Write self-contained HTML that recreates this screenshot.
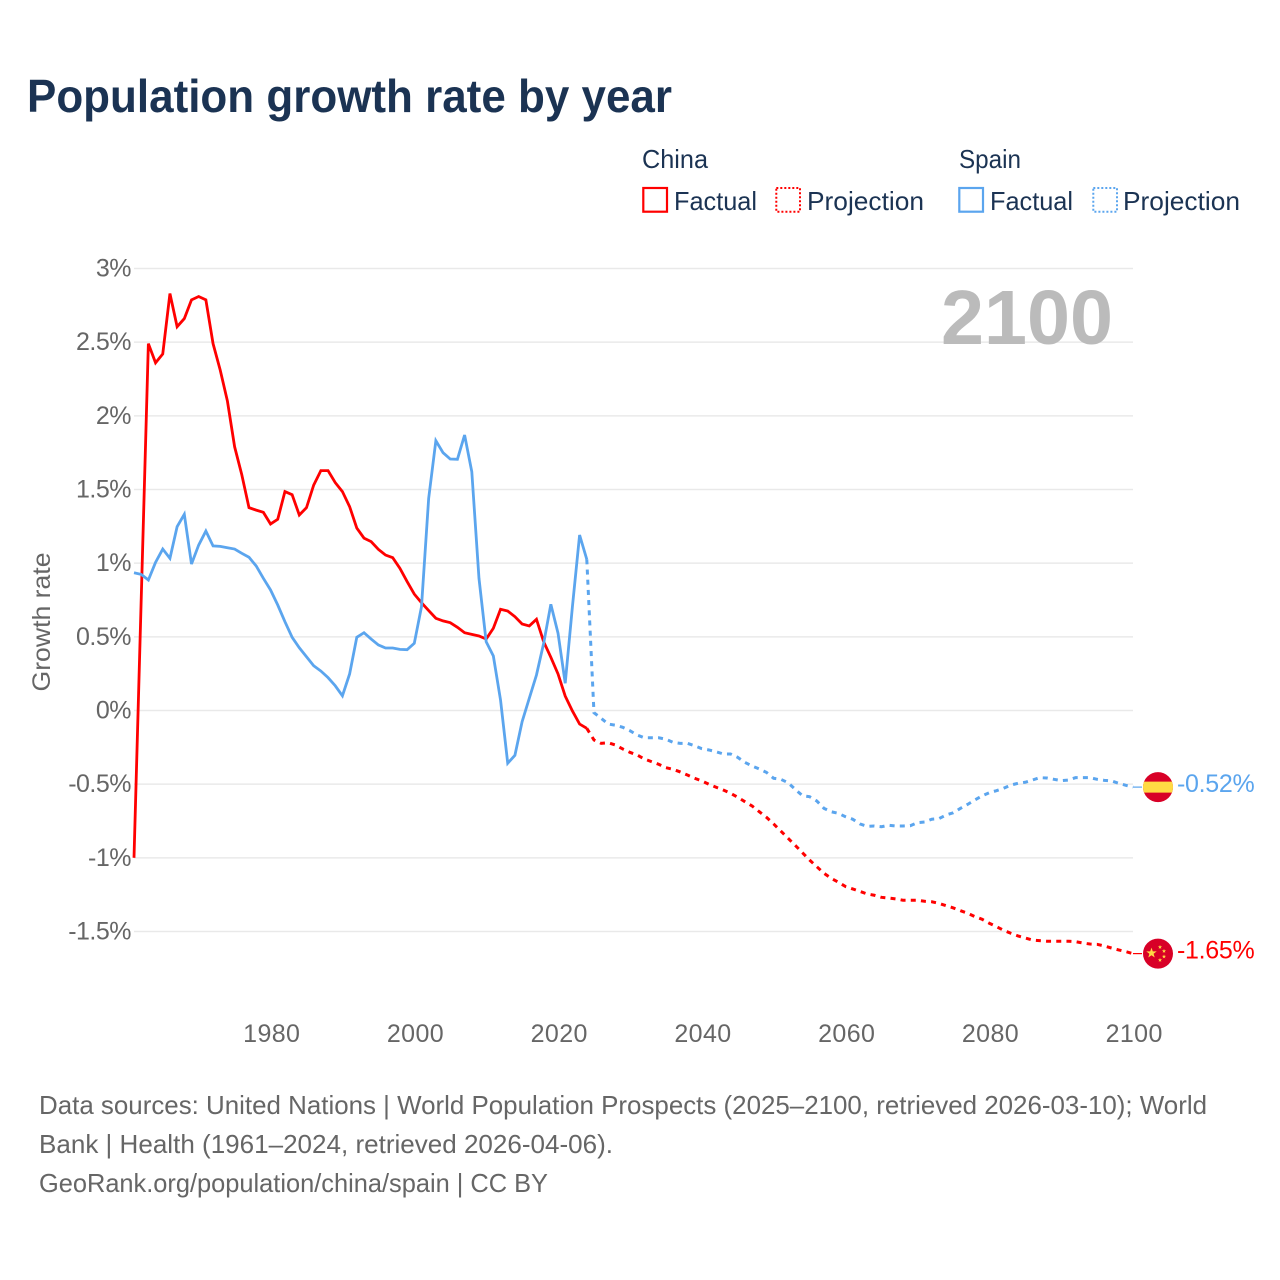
<!DOCTYPE html>
<html lang="en">
<head>
<meta charset="utf-8">
<title>Population growth rate by year</title>
<style>
html,body{margin:0;padding:0;background:#fff;}
svg{display:block;font-family:"Liberation Sans",sans-serif;}
.dark{fill:#1b3353;}
.gray{fill:#666;}
</style>
</head>
<body>
<svg id="chart" xmlns="http://www.w3.org/2000/svg" width="1280" height="1280" viewBox="0 0 1280 1280">
  <rect x="0" y="0" width="1280" height="1280" fill="#fff"/>
  <text class="dark" x="27" y="112" font-size="46" font-weight="700" textLength="645" lengthAdjust="spacingAndGlyphs">Population growth rate by year</text>

  <g font-size="26">
    <text class="dark" x="642" y="168" textLength="66" lengthAdjust="spacingAndGlyphs">China</text>
    <rect x="643.3" y="188" width="23.7" height="23.7" fill="none" stroke="#ff0000" stroke-width="2.2"/>
    <text class="dark" x="674" y="210" textLength="83" lengthAdjust="spacingAndGlyphs">Factual</text>
    <rect x="776.3" y="188" width="23.7" height="23.7" fill="none" stroke="#ff0000" stroke-width="2" stroke-dasharray="2 2"/>
    <text class="dark" x="807" y="210" textLength="117" lengthAdjust="spacingAndGlyphs">Projection</text>
    <text class="dark" x="959" y="168" textLength="62" lengthAdjust="spacingAndGlyphs">Spain</text>
    <rect x="959.3" y="188" width="23.7" height="23.7" fill="none" stroke="#5ba5ee" stroke-width="2.2"/>
    <text class="dark" x="990" y="210" textLength="83" lengthAdjust="spacingAndGlyphs">Factual</text>
    <rect x="1093.3" y="188" width="23.7" height="23.7" fill="none" stroke="#5ba5ee" stroke-width="2" stroke-dasharray="2 2"/>
    <text class="dark" x="1123" y="210" textLength="117" lengthAdjust="spacingAndGlyphs">Projection</text>
  </g>

  <g id="grid"></g>
  <g id="yticks"></g>
  <g id="xticks"></g>
  <text class="gray" font-size="25" text-anchor="middle" transform="translate(50 622) rotate(-90)" textLength="139" lengthAdjust="spacingAndGlyphs">Growth rate</text>
  <text x="941" y="344" font-size="77" font-weight="700" fill="#bbbbbb" textLength="172" lengthAdjust="spacingAndGlyphs">2100</text>
  <g id="series"></g>
  <g id="ends"></g>

  <g font-size="26" class="gray">
    <text class="gray" x="39" y="1114" textLength="1168" lengthAdjust="spacingAndGlyphs">Data sources: United Nations | World Population Prospects (2025–2100, retrieved 2026-03-10); World</text>
    <text class="gray" x="39" y="1153" textLength="574" lengthAdjust="spacingAndGlyphs">Bank | Health (1961–2024, retrieved 2026-04-06).</text>
    <text class="gray" x="39" y="1192" textLength="509" lengthAdjust="spacingAndGlyphs">GeoRank.org/population/china/spain | CC BY</text>
  </g>
</svg>
<script>
const yTickValues = [3, 2.5, 2, 1.5, 1, 0.5, 0, -0.5, -1, -1.5];
const xTickYears = [1980, 2000, 2020, 2040, 2060, 2080, 2100];
const factualStartYear = 1961;
const projectionStartYear = 2024;

const chinaFactual = [-1, 0.75, 2.49, 2.36, 2.42, 2.83, 2.605, 2.66, 2.787, 2.81, 2.787, 2.49, 2.31, 2.1, 1.79, 1.6, 1.377, 1.36, 1.345, 1.266, 1.298, 1.486, 1.465, 1.327, 1.377, 1.53, 1.628, 1.628, 1.547, 1.486, 1.384, 1.238, 1.17, 1.146, 1.094, 1.055, 1.037, 0.965, 0.875, 0.79, 0.732, 0.678, 0.626, 0.608, 0.596, 0.565, 0.528, 0.517, 0.506, 0.485, 0.558, 0.687, 0.675, 0.637, 0.587, 0.574, 0.619, 0.467, 0.361, 0.248, 0.098, -0.003, -0.092, -0.121];

const chinaProjection = [-0.121, -0.2, -0.223, -0.219, -0.234, -0.261, -0.284, -0.302, -0.329, -0.347, -0.365, -0.388, -0.399, -0.417, -0.438, -0.46, -0.478, -0.501, -0.521, -0.54, -0.562, -0.589, -0.619, -0.648, -0.687, -0.725, -0.77, -0.818, -0.867, -0.915, -0.965, -1.015, -1.06, -1.105, -1.139, -1.165, -1.195, -1.211, -1.228, -1.245, -1.254, -1.268, -1.273, -1.279, -1.288, -1.288, -1.288, -1.295, -1.298, -1.309, -1.325, -1.34, -1.359, -1.376, -1.399, -1.417, -1.444, -1.467, -1.492, -1.512, -1.53, -1.544, -1.558, -1.562, -1.566, -1.566, -1.566, -1.566, -1.569, -1.578, -1.585, -1.587, -1.598, -1.612, -1.625, -1.637, -1.65];

const spainFactual = [0.935, 0.924, 0.886, 1.006, 1.096, 1.033, 1.248, 1.332, 0.994, 1.123, 1.218, 1.117, 1.114, 1.105, 1.096, 1.067, 1.04, 0.981, 0.897, 0.818, 0.716, 0.603, 0.497, 0.426, 0.365, 0.304, 0.268, 0.223, 0.168, 0.1, 0.248, 0.497, 0.528, 0.485, 0.445, 0.424, 0.424, 0.415, 0.413, 0.456, 0.704, 1.44, 1.831, 1.75, 1.707, 1.705, 1.87, 1.621, 0.897, 0.467, 0.37, 0.071, -0.358, -0.304, -0.076, 0.083, 0.241, 0.456, 0.721, 0.524, 0.185, 0.704, 1.191, 1.026];

const spainProjection = [1.026, -0.015, -0.053, -0.092, -0.1, -0.114, -0.137, -0.166, -0.185, -0.185, -0.185, -0.195, -0.216, -0.223, -0.223, -0.239, -0.259, -0.268, -0.28, -0.295, -0.295, -0.318, -0.352, -0.377, -0.397, -0.42, -0.46, -0.467, -0.49, -0.535, -0.578, -0.585, -0.614, -0.664, -0.687, -0.698, -0.721, -0.738, -0.77, -0.786, -0.784, -0.789, -0.779, -0.784, -0.784, -0.782, -0.761, -0.757, -0.738, -0.734, -0.709, -0.694, -0.664, -0.637, -0.607, -0.58, -0.558, -0.544, -0.528, -0.506, -0.494, -0.487, -0.472, -0.456, -0.458, -0.467, -0.476, -0.472, -0.456, -0.456, -0.456, -0.467, -0.474, -0.478, -0.494, -0.508, -0.52];

const NS = 'http://www.w3.org/2000/svg';
const RED = '#ff0000';
const BLUE = '#5ba5ee';

function xScale(year) { return 134 + (year - 1961) * (999 / 139); }
function yScale(pct) { return 710.5 - pct * 147.33; }

function make(tag, attrs, parent) {
  const el = document.createElementNS(NS, tag);
  for (const k in attrs) el.setAttribute(k, attrs[k]);
  parent.appendChild(el);
  return el;
}

function pathFor(values, startYear) {
  return values.map(function (v, i) {
    return (i ? 'L' : 'M') + xScale(startYear + i).toFixed(2) + ' ' + yScale(v).toFixed(2);
  }).join(' ');
}

const gridG = document.getElementById('grid');
const yG = document.getElementById('yticks');
yTickValues.forEach(function (v) {
  const line = make('line', { x1: 134, x2: 1133, y1: yScale(v), y2: yScale(v), stroke: '#e9e9e9', 'stroke-width': 1.5 }, gridG);
  
  
  const t = make('text', { x: 131, y: yScale(v) + 8, 'text-anchor': 'end', 'font-size': 25, fill: '#666', 'letter-spacing': '-0.5' }, yG);
  t.textContent = v + '%';
  
  
});

const xG = document.getElementById('xticks');
xTickYears.forEach(function (yr) {
  const t = make('text', { x: xScale(yr) + 1.2, y: 1042, 'text-anchor': 'middle', 'font-size': 25, fill: '#666', 'letter-spacing': '0.4' }, xG);
  t.textContent = yr;
  
  
});

const sG = document.getElementById('series');
const chinaFactualLine = make('path', { d: pathFor(chinaFactual, factualStartYear), fill: 'none', stroke: RED, 'stroke-width': 2.8, 'stroke-linejoin': 'miter' }, sG);


const spainFactualLine = make('path', { d: pathFor(spainFactual, factualStartYear), fill: 'none', stroke: BLUE, 'stroke-width': 2.8, 'stroke-linejoin': 'miter' }, sG);


const chinaProjectionLine = make('path', { d: pathFor(chinaProjection, projectionStartYear), fill: 'none', stroke: RED, 'stroke-width': 3, 'stroke-dasharray': '5 5.2' }, sG);


const spainProjectionLine = make('path', { d: pathFor(spainProjection, projectionStartYear), fill: 'none', stroke: BLUE, 'stroke-width': 3, 'stroke-dasharray': '5 5.2' }, sG);



const endG = document.getElementById('ends');
const FLAG_X = 1158;

function endLabel(values, color) {
  const last = values[values.length - 1];
  const y = yScale(last);
  const conn = make('line', { x1: xScale(2100), x2: FLAG_X - 16, y1: y, y2: y, stroke: color, 'stroke-width': 1.2 }, endG);
  
  
  const t = make('text', { x: 1177, y: y + 5, 'font-size': 25, fill: color, 'letter-spacing': '-0.3' }, endG);
  t.textContent = last.toFixed(2) + '%';
  
  
  return y;
}

const spainY = endLabel(spainProjection, BLUE);
const chinaY = endLabel(chinaProjection, RED);

const spainFlag = make('g', { transform: 'translate(' + FLAG_X + ' ' + spainY + ')' }, endG);


make('circle', { cx: 0, cy: 0, r: 15, fill: '#d80027' }, spainFlag);
const spainBand = make('path', { d: 'M-13.96 -5.5 H13.96 A15 15 0 0 1 13.96 5.5 H-13.96 A15 15 0 0 1 -13.96 -5.5 Z', fill: '#ffda44' }, spainFlag);



function star(cx, cy, r, parent) {
  let d = '';
  for (let i = 0; i < 10; i++) {
    const a = -Math.PI / 2 + i * Math.PI / 5;
    const rr = i % 2 ? r * 0.4 : r;
    d += (i ? 'L' : 'M') + (cx + rr * Math.cos(a)).toFixed(2) + ' ' + (cy + rr * Math.sin(a)).toFixed(2);
  }
  const s = make('path', { d: d + 'Z', fill: '#ffda44' }, parent);
  
  
}
const chinaFlag = make('g', { transform: 'translate(' + FLAG_X + ' ' + chinaY + ')' }, endG);


make('circle', { cx: 0, cy: 0, r: 15, fill: '#d80027' }, chinaFlag);
star(-6.5, -0.5, 5.5, chinaFlag);
star(2, -6.5, 2.2, chinaFlag);
star(6, -2.5, 2.2, chinaFlag);
star(6, 3, 2.2, chinaFlag);
star(2, 6.5, 2.2, chinaFlag);
</script>
</body>
</html>
